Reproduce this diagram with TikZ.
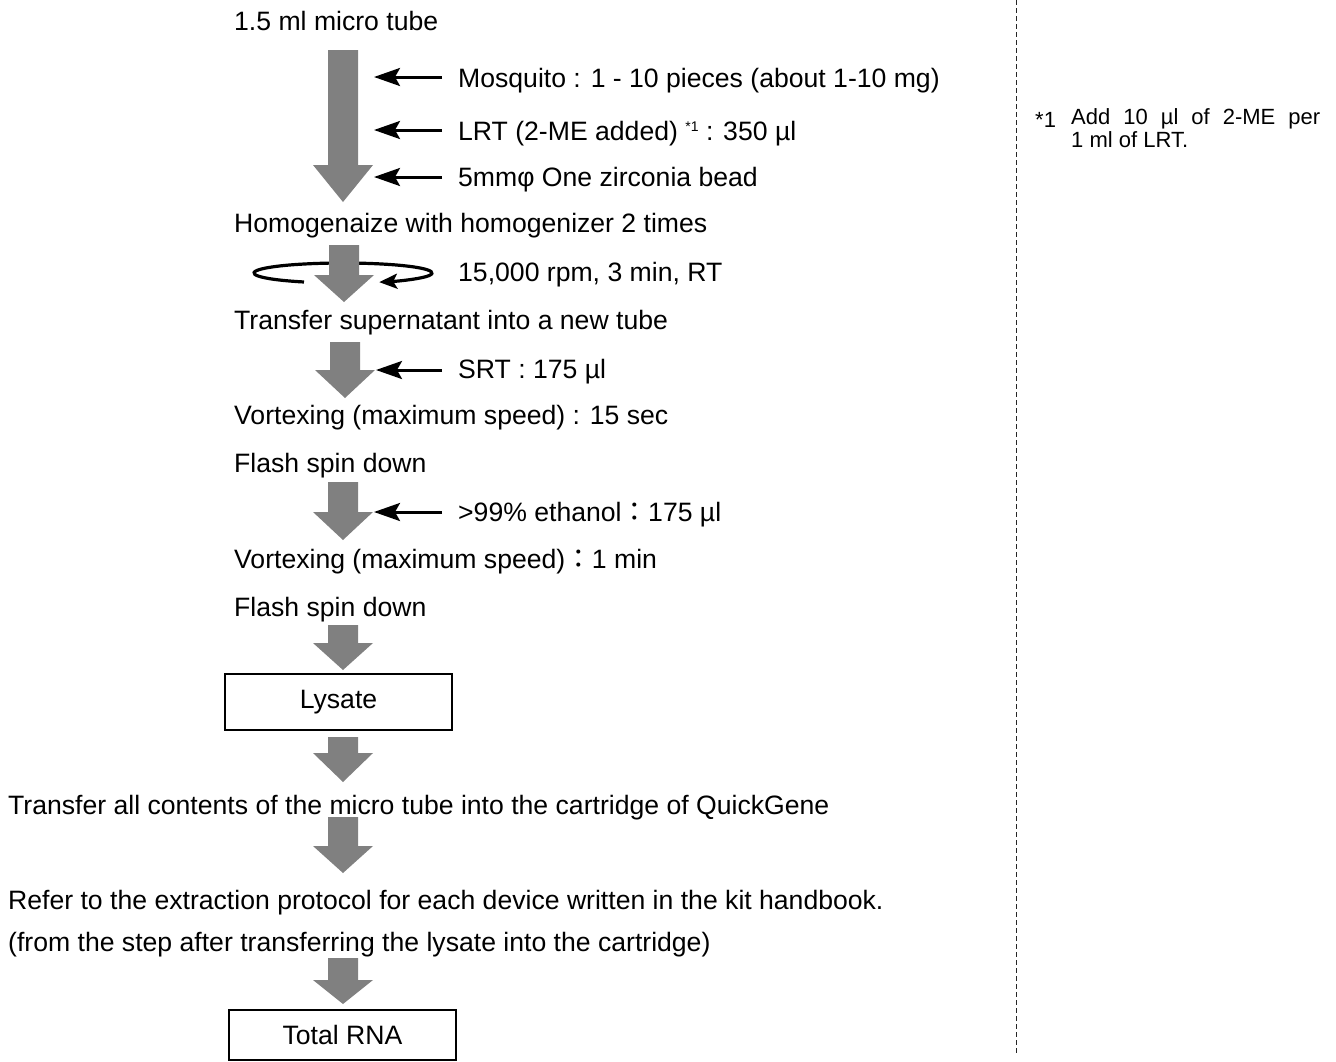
\documentclass[tikz,border=0pt]{standalone}
\usepackage{fontspec}
\setmainfont{Liberation Sans}
\newfontfamily\cjkfont{Noto Sans CJK JP}
\usetikzlibrary{arrows.meta}
\definecolor{agray}{RGB}{128,128,128}
\newcommand\grayarr[4]{% cx, top, headstart, tip
  \fill[agray] (#1-15,#2) -- (#1+15,#2) -- (#1+15,#3) -- (#1+30,#3) -- (#1,#4) -- (#1-30,#3) -- (#1-15,#3) -- cycle;}
\begin{document}
\begin{tikzpicture}[x=1pt,y=-1pt,
  txt/.style={anchor=base west, inner sep=0pt, font=\fontsize{26.6}{30}\selectfont},
  fn/.style={anchor=base west, inner sep=0pt, font=\fontsize{22}{24}\selectfont},
  resbox/.style={draw, line width=1.5pt, minimum width=227pt, inner sep=0pt, font=\fontsize{26.6}{30}\selectfont},
  blk/.style={line width=3pt, -{Stealth[length=26pt,width=18pt,inset=5pt]}},
  spin/.style={line width=3.2pt, -{Stealth[length=18pt,width=15pt,inset=4pt]}}]
\useasboundingbox (0,0) rectangle (1336,1061);
% dashed separator
\draw[line width=1pt, dash pattern=on 5pt off 3pt, black!85] (1016,0) -- (1016,1055);
% texts
\node[txt] (t0) at (234,30) {1.5 ml micro tube};
\node[txt] (s1) at (458,87) {Mosquito : 1 - 10 pieces (about 1-10 mg)};
\node[txt] (s2) at (458,140) {LRT (2-ME added) \raisebox{9pt}{\fontsize{14}{14}\selectfont *1} : 350 µl};
\node[txt] (s3) at (458,186) {5mmφ One zirconia bead};
\node[txt] (t1) at (234,232) {Homogenaize with homogenizer 2 times};
\node[txt] (s4) at (458,281) {15,000 rpm, 3 min, RT};
\node[txt] (t2) at (234,329) {Transfer supernatant into a new tube};
\node[txt] (s5) at (458,378) {SRT : 175 µl};
\node[txt] (t3) at (234,424) {Vortexing (maximum speed) : 15 sec};
\node[txt] (t4) at (234,472) {Flash spin down};
\node[txt] (s6) at (458,521) {>99\% ethanol{\cjkfont ：}175 µl};
\node[txt] (t5) at (234,568) {Vortexing (maximum speed){\cjkfont ：}1 min};
\node[txt] (t6) at (234,616) {Flash spin down};
\node[resbox, minimum height=56pt] (lys) at (338.5,702) {Lysate};
\node[txt] (t7) at (8,814) {Transfer all contents of the micro tube into the cartridge of QuickGene};
\node[txt] (t8) at (8,909) {Refer to the extraction protocol for each device written in the kit handbook.};
\node[txt] (t9) at (8,951) {(from the step after transferring the lysate into the cartridge)};
\node[resbox, minimum height=50pt] (rna) at (342.5,1035) {Total RNA};
% footnote
\node[fn] (fn0) at (1035,127) {*1};
\node[fn] (fn1) at (1071,124) {\makebox[249pt][s]{Add 10 µl of 2-ME per}};
\node[fn] (fn2) at (1071,147) {1 ml of LRT.};
% spin ellipse (behind arrow 2)
\draw[spin] (343,273) ++(116:89 and 10) arc[start angle=116, end angle=426, x radius=89, y radius=10];
% gray block arrows
\grayarr{343}{50}{165}{202}
\grayarr{344}{245}{275}{302}
\grayarr{345}{342}{370}{398}
\grayarr{343}{482}{512}{540}
\grayarr{343}{625}{643}{670}
\grayarr{343}{737}{753}{782}
\grayarr{343}{817}{846}{873}
\grayarr{343}{958}{980}{1004}
% side arrows
\draw[blk] (s1.west |- 0,77) ++(-16,0) -- (374,77);
\draw[blk] (s2.west |- 0,130) ++(-16,0) -- (374,130);
\draw[blk] (s3.west |- 0,177) ++(-16,0) -- (374,177);
\draw[blk] (s5.west |- 0,370) ++(-16,0) -- (376,370);
\draw[blk] (s6.west |- 0,512) ++(-16,0) -- (374,512);
\end{tikzpicture}
\end{document}
